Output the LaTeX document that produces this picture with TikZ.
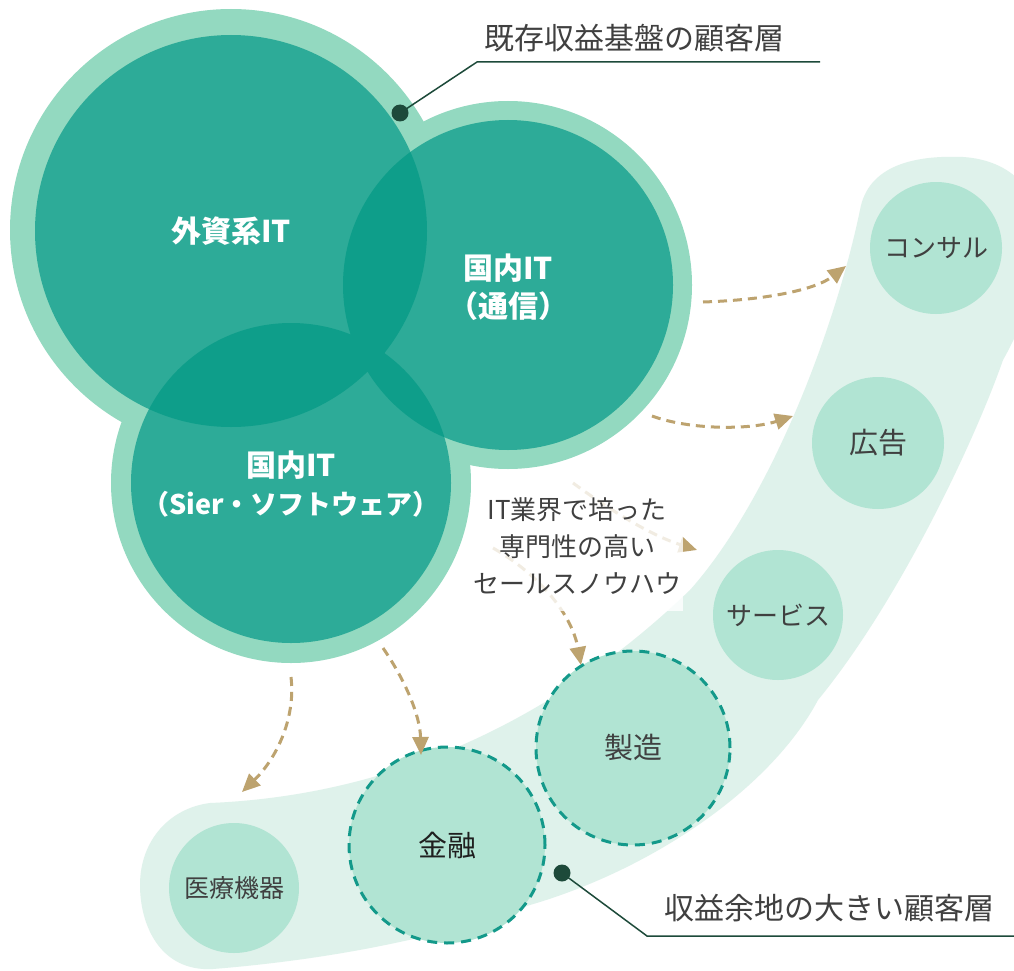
\documentclass[tikz,border=0pt]{standalone}
\usepackage{fontspec}
\newfontfamily\jp{Noto Sans CJK JP}
\usetikzlibrary{arrows.meta}
\definecolor{ringc}{RGB}{147,217,192}
\definecolor{tealc}{RGB}{45,171,152}
\definecolor{ovlc}{RGB}{14,158,138}
\definecolor{bandc}{RGB}{223,242,235}
\definecolor{smallc}{RGB}{177,228,211}
\definecolor{dashc}{RGB}{19,153,138}
\definecolor{tanc}{RGB}{189,163,111}
\definecolor{txtc}{RGB}{64,64,64}
\definecolor{darkc}{RGB}{29,74,58}
\tikzset{
  ringnode/.style={circle, fill=ringc, inner sep=0pt, outer sep=0pt, minimum size=#1},
  corenode/.style={circle, fill=tealc, inner sep=0pt, outer sep=0pt, minimum size=#1},
  seg/.style={circle, fill=smallc, inner sep=0pt, outer sep=0pt, minimum size=#1, text=txtc, font=\jp\fontsize{29}{34}\selectfont},
  segdash/.style={seg={#1}, draw=dashc, line width=3pt, dash pattern=on 10pt off 7pt},
  corelabel/.style={text=white, align=center, font=\jp\bfseries\fontsize{30}{38}\selectfont},
  arr/.style={draw=tanc, line width=3pt, dash pattern=on 9pt off 6pt, -{Triangle[length=18pt,width=16pt]}},
  callout/.style={draw=darkc, line width=1.5pt},
  calldot/.style={circle, fill=darkc, inner sep=0pt, minimum size=17pt},
  calltext/.style={text=txtc, font=\jp\fontsize{30}{36}\selectfont}
}
\begin{document}
\begin{tikzpicture}[x=1pt,y=-1pt]
\useasboundingbox (0,0) rectangle (1014,971);
\fill[white] (0,0) rectangle (1014,971);
% light band
\fill[bandc] (210,803)
  .. controls (400,795) and (560,715) .. (690,590)
  .. controls (770,500) and (835,330) .. (860,210)
  .. controls (868,165) and (915,155) .. (963,157)
  .. controls (1010,160) and (1045,190) .. (1040,250)
  .. controls (1036,290) and (1020,330) .. (1003,360)
  .. controls (975,440) and (900,600) .. (818,700)
  .. controls (770,790) and (650,870) .. (530,905)
  .. controls (420,945) and (300,962) .. (213,969)
  .. controls (160,972) and (140,925) .. (140,885)
  .. controls (140,840) and (170,808) .. (210,803) -- cycle;
% rings
\node[ringnode=442pt] (gaishiR) at (231,230) {};
\node[ringnode=368pt] (tsushinR) at (508,285) {};
\node[ringnode=360pt] (sierR) at (291,483) {};
% cores
\node[corenode=392pt] (gaishi) at (231,231) {};
\node[corenode=330pt] (tsushin) at (508,285) {};
\node[corenode=320pt] (sier) at (291,483) {};
% overlaps
\begin{scope}
  \clip (231,231) circle[radius=196];
  \fill[ovlc] (508,285) circle[radius=165];
  \fill[ovlc] (291,483) circle[radius=160];
\end{scope}
\begin{scope}
  \clip (508,285) circle[radius=165];
  \fill[ovlc] (291,483) circle[radius=160];
\end{scope}
% core labels
\node[corelabel] (gaishiL) at (gaishi.center) {外資系IT};
\node[corelabel] (tsushinL) at ([yshift=-2pt]tsushin.center) {国内IT\\（通信）};
\node[corelabel] (sierL) at ([yshift=-1pt]sier.center) {国内IT\\{\fontsize{27}{38}\selectfont（Sier・ソフトウェア）}};
% segment circles
\node[seg=132pt, font=\jp\fontsize{26}{30}\selectfont] (consul) at (936,248) {コンサル};
\node[seg=132pt] (koukoku) at (878,443) {広告};
\node[seg=130pt, font=\jp\fontsize{26}{30}\selectfont] (service) at (778,615) {サービス};
\node[segdash=194pt] (seizo) at (633,748) {製造};
\node[segdash=196pt, text=black!88] (kinyu) at (447,845) {金融};
\node[seg=130pt, font=\jp\fontsize{25}{30}\selectfont] (iryo) at (234,888) {医療機器};
% arrows
\coordinate (a1s) at (703,302); \coordinate (a1e) at (846,266);
\draw[arr] (a1s) .. controls (765,300) and (815,290) .. (a1e);
\coordinate (a2s) at (652,416); \coordinate (a2e) at (793,416);
\draw[arr] (a2s) .. controls (690,430) and (750,430) .. (a2e);
\coordinate (a3s) at (573,483); \coordinate (a3e) at (697,550);
\draw[arr] (a3s) .. controls (610,510) and (650,535) .. (a3e);
\coordinate (a4s) at (493,548); \coordinate (a4e) at (581,665);
\draw[arr] (a4s) .. controls (540,575) and (572,615) .. (a4e);
\coordinate (a5s) at (383,648); \coordinate (a5e) at (421,755);
\draw[arr] (a5s) .. controls (405,680) and (420,715) .. (a5e);
\coordinate (a6s) at (291,677); \coordinate (a6e) at (242,792);
\draw[arr] (a6s) .. controls (296,720) and (275,760) .. (a6e);
% know-how text
\node[fill=white, fill opacity=0.8, text opacity=1, text=txtc, align=center,
      minimum width=212pt, minimum height=130pt, inner sep=0pt,
      font=\jp\fontsize{26}{37}\selectfont] (knowhow) at (577,546)
      {IT業界で培った\\専門性の高い\\セールスノウハウ};
% callouts
\coordinate (k1) at (477,62); \coordinate (e1) at (820,62);
\node[calldot] (d1) at (400,113) {};
\draw[callout] (d1.center) -- (k1) -- (e1);
\node[calltext] (t1) at (634,38) {既存収益基盤の顧客層};
\coordinate (k2) at (647,936); \coordinate (e2) at (1014,936);
\node[calldot] (d2) at (562,873) {};
\draw[callout] (d2.center) -- (k2) -- (e2);
\node[calltext] (t2) at (829,908) {収益余地の大きい顧客層};
\end{tikzpicture}
\end{document}
